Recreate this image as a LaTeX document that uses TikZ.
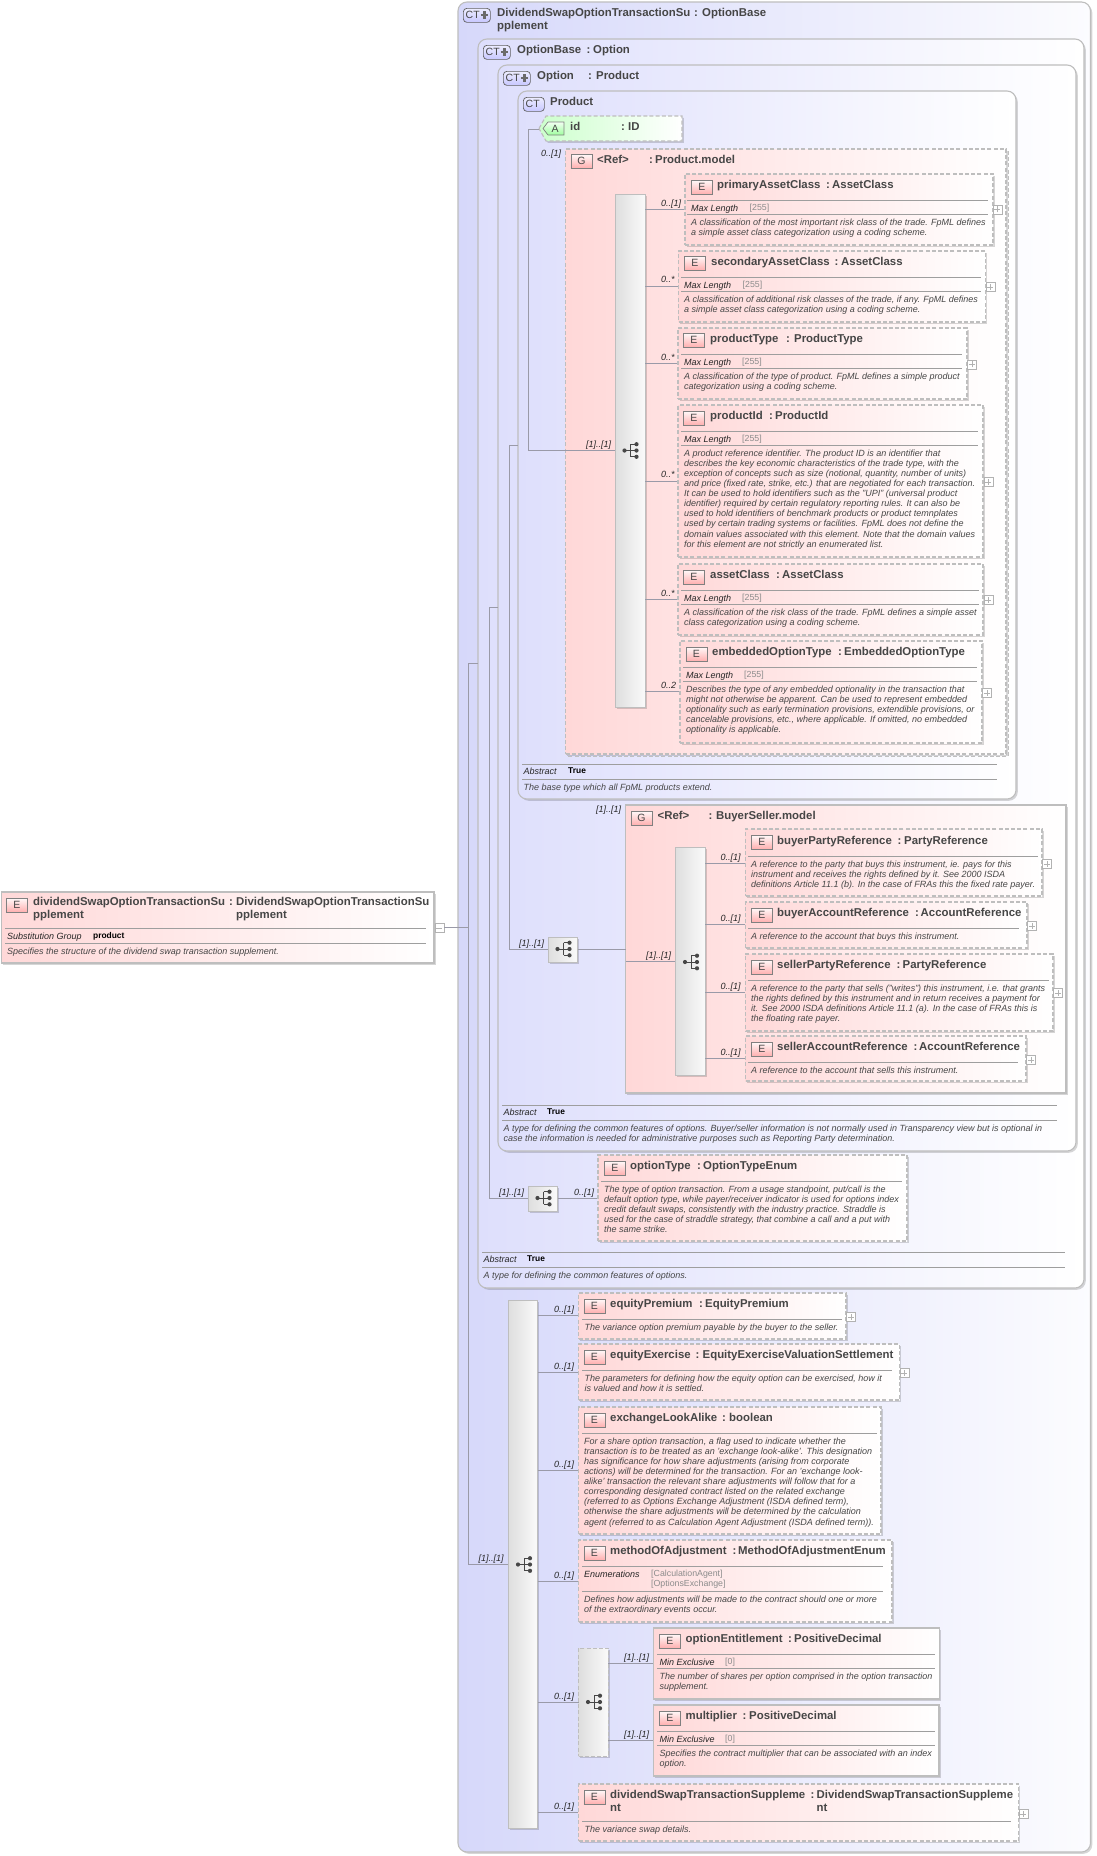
\documentclass[tikz,border=0pt]{standalone}
\usepackage{fontspec}
\setmainfont{Liberation Sans}
\usetikzlibrary{shadows}
\definecolor{bord}{HTML}{BEBEBE}
\definecolor{conn}{HTML}{9A9AA8}
\definecolor{txt}{HTML}{464646}
\definecolor{elL}{HTML}{FFD8D8}
\definecolor{ctA}{HTML}{D6D8FA}
\definecolor{ctB}{HTML}{DEDFFC}
\newcounter{tn}
\tikzset{
 shad/.style={drop shadow={shadow xshift=1.8pt,shadow yshift=-1.8pt,opacity=.16,fill=black}},
 ctbox/.style={draw=bord,line width=1.1pt,rounded corners=9pt,left color=ctB,right color=white,shad},
 ctouter/.style={ctbox,left color=ctA,right color=white!92!ctA},
 elsolid/.style={draw=bord,line width=1.1pt,left color=elL,right color=white,shad},
 eldash/.style={elsolid,dash pattern=on 4pt off 2.2pt},
 compbox/.style={draw=bord,line width=.9pt,left color=black!13,right color=black!2,shad},
 compdash/.style={compbox,dash pattern=on 4pt off 2.2pt},
 iconbox/.style={draw=black!50,line width=.7pt,top color=red!3,bottom color=red!32!white,minimum width=21pt,minimum height=14pt,inner sep=0pt,font=\fontsize{10.5}{10}\selectfont,text=txt,anchor=north west},
 cticon/.style={draw=black!62,line width=.7pt,top color=blue!7,bottom color=blue!22,rounded corners=3.5pt,minimum height=14pt,inner sep=0pt,anchor=north west},
 sep/.style={draw=black!38,line width=.7pt},
 conn/.style={draw=conn,line width=.8pt},
 tt/.style={font=\fontsize{11.4}{12}\selectfont\bfseries,text=txt,inner sep=0pt,anchor=base west},
 desc/.style={font=\fontsize{9}{10.1}\selectfont\itshape,text=txt,inner sep=0pt,anchor=north west,align=left},
 lbl/.style={font=\fontsize{9}{10}\selectfont\itshape,text=black!85,inner sep=0pt,anchor=base west},
 key/.style={font=\fontsize{9}{10}\selectfont\itshape,text=black!85,inner sep=0pt,anchor=base west},
 val/.style={font=\fontsize{8.4}{10}\selectfont\bfseries,text=black,inner sep=0pt,anchor=base west},
 fac/.style={font=\fontsize{8.8}{10}\selectfont,text=black!45,inner sep=0pt,anchor=base west},
 pbox/.style={draw=black!30,line width=.6pt,fill=white,minimum size=9pt,inner sep=0pt,anchor=north west},
 dotc/.style={fill=black!72,draw=none},
}
\newcommand{\BX}[6]{\pgfmathsetmacro\bxw{#4-#2}\pgfmathsetmacro\bxh{#5-#3}%
 \node[#6,minimum width=\bxw pt,minimum height=\bxh pt,inner sep=0pt,outer sep=0pt,anchor=north west] (#1) at (#2,#3) {};}
\newcommand{\TX}[4]{\stepcounter{tn}\node[#3] (t\arabic{tn}) at (#1,#2+3) {#4};}
\newcommand{\TI}[6]{\TX{#1}{#2+.5}{tt}{#3}\TX{#4}{#2+.5}{tt}{:}\TX{#5}{#2+.5}{tt}{#6}}
\newcommand{\D}[3]{\stepcounter{tn}\node[desc] (t\arabic{tn}) at (#1,#2-4) {\rule{0pt}{7pt}#3};}
\newcommand{\HL}[3]{\draw[sep] (#1,#3) -- (#2,#3);}
\newcommand{\LB}[3]{\TX{#1}{#2}{lbl}{#3}}
\newcommand{\IC}[4]{\stepcounter{tn}\node[iconbox] (i\arabic{tn}) at (#2,#3) {#1};}
\newcommand{\PL}[3]{\node[pbox] (#1) at (#2,#3) {};
 \draw[draw=black!30,line width=.6pt] ([xshift=1.8pt]#1.west) -- ([xshift=-1.8pt]#1.east) ([yshift=1.8pt]#1.south) -- ([yshift=-1.8pt]#1.north);}
\newcommand{\CN}[4]{\coordinate (#2) at (#3,#4); \draw[conn] (#1.east |- #2) -- (#2);}
\newcommand{\CI}[2]{\begin{scope}[shift={(#1,#2)}]
 \draw[black!72,line width=.8pt] (-6,0) -- (6,0) (0,-6.3) -- (0,6.3) (0,-6.3) -- (6,-6.3) (0,6.3) -- (6,6.3);
 \fill[dotc] (-6,0) circle (2.1pt) (6,-6.3) circle (2.1pt) (6,0) circle (2.1pt) (6,6.3) circle (2.1pt);
 \end{scope}}
\newcommand{\CT}[4]{\stepcounter{tn}\pgfmathsetmacro\bxw{#3}\node[cticon,minimum width=\bxw pt] (c\arabic{tn}) at (#1,#2) {\hspace*{#4}};
 \node[inner sep=0pt,anchor=west,font=\fontsize{10.5}{10}\selectfont,text=txt] (cl\arabic{tn}) at (#1+2.5,#2+7.2) {CT};}
\newcommand{\CP}[2]{\draw[line width=2.2pt,draw=black!58] (#1+21.5,#2+3.3) -- (#1+21.5,#2+10.7) (#1+17.8,#2+7) -- (#1+25.2,#2+7);}
\begin{document}
\begin{tikzpicture}[x=1pt,y=-1pt]
\useasboundingbox[fill=white] (0,0) rectangle (1096,1856);
% nested complex types
\BX{ctout}{458}{2}{1090.5}{1852}{ctouter}
\CT{463}{8}{27}{0pt}\CP{463}{8}
\TX{497}{13.5}{tt}{DividendSwapOptionTransactionSu}\TX{497}{26.5}{tt}{pplement}\TX{694}{13.5}{tt}{:}\TX{702}{13.5}{tt}{OptionBase}
\BX{ctbase}{478}{39}{1084}{1288}{ctbox}
\CT{483}{45}{27}{0pt}\CP{483}{45}
\TX{517}{50.5}{tt}{OptionBase}\TX{586.5}{50.5}{tt}{:}\TX{593}{50.5}{tt}{Option}
\BX{ctopt}{498}{65}{1076}{1151}{ctbox}
\CT{503}{71}{27}{0pt}\CP{503}{71}
\TX{537}{76.5}{tt}{Option}\TX{588}{76.5}{tt}{:}\TX{596}{76.5}{tt}{Product}
\BX{ctprod}{518}{91}{1016}{799}{ctbox}
\CT{523}{97}{21}{0pt}
\TX{550}{102.5}{tt}{Product}
% attribute
\draw[line width=1.1pt,draw=bord,dash pattern=on 4pt off 2.2pt,left color=green!20!white,right color=white,shad] (539,128.5) -- (546,116) -- (682,116) -- (682,141) -- (546,141) -- cycle;
\draw[draw=black!50,line width=.7pt,top color=green!5,bottom color=green!38!white] (543,128.5) -- (548,122) -- (564,122) -- (564,135) -- (548,135) -- cycle;
\node[inner sep=0pt,font=\fontsize{10.5}{10}\selectfont,text=txt] (iattr) at (555,128.7) {A};
\TX{570}{127.5}{tt}{id}\TX{621}{127.5}{tt}{:}\TX{628}{127.5}{tt}{ID}
\coordinate (attr-c) at (539,129.5);
% Product.model
\LB{541}{153}{0..[1]}
\BX{gprod}{565.5}{149}{1006}{754}{eldash}
\draw[draw=black!25,line width=1.2pt,dash pattern=on 4pt off 2.2pt] (1008.5,151) -- (1008.5,756.5) -- (568,756.5);
\IC{G}{570.5}{154}{}
\TX{597}{160.5}{tt}{<Ref>}\TX{649}{160.5}{tt}{:}\TX{655}{160.5}{tt}{Product.model}
\BX{cpP}{615}{194}{645}{707}{compbox}
\CI{630.5}{450.5}
\coordinate (cpP-c) at (615,450);
\LB{586}{444}{[1]..[1]}
% primaryAssetClass
\CN{cpP}{e1-c}{685}{209}\LB{661}{203}{0..[1]}
\BX{e1}{685}{174}{993}{245}{eldash}\IC{E}{691}{180}{}
\TI{717}{185}{primaryAssetClass}{826}{832}{AssetClass}
\HL{687}{988}{200}\TX{691}{208}{key}{Max Length}\TX{749.5}{207.5}{fac}{[255]}\HL{687}{988}{214}
\D{691}{222}{A classification of the most important risk class of the trade. FpML defines\\a simple asset class categorization using a coding scheme.}
\PL{p1}{992.5}{204.5}
% secondaryAssetClass
\CN{cpP}{e2-c}{678.5}{286}\LB{661}{279}{0..*}
\BX{e2}{678.5}{251}{985.5}{322}{eldash}\IC{E}{684}{256}{}
\TI{711}{262}{secondaryAssetClass}{834.5}{841}{AssetClass}
\HL{681}{981}{277}\TX{684}{285}{key}{Max Length}\TX{742.5}{284.5}{fac}{[255]}\HL{681}{981}{291}
\D{684}{299}{A classification of additional risk classes of the trade, if any. FpML defines\\a simple asset class categorization using a coding scheme.}
\PL{p2}{985.5}{282}
% productType
\CN{cpP}{e3-c}{678}{363}\LB{661}{357}{0..*}
\BX{e3}{678}{328}{967}{399}{eldash}\IC{E}{683}{333}{}
\TI{710}{339}{productType}{786}{794}{ProductType}
\HL{681}{962}{354}\TX{684}{362}{key}{Max Length}\TX{742}{361.5}{fac}{[255]}\HL{681}{962}{368}
\D{684}{376}{A classification of the type of product. FpML defines a simple product\\categorization using a coding scheme.}
\PL{p3}{967}{359.5}
% productId
\CN{cpP}{e4-c}{678}{481}\LB{661}{474}{0..*}
\BX{e4}{678}{405}{983}{557}{eldash}\IC{E}{683}{411}{}
\TI{710}{416}{productId}{769}{775}{ProductId}
\HL{681}{978}{431}\TX{684}{439}{key}{Max Length}\TX{742}{438.5}{fac}{[255]}\HL{681}{978}{445}
\D{684}{453}{A product reference identifier. The product ID is an identifier that\\describes the key economic characteristics of the trade type, with the\\exception of concepts such as size (notional, quantity, number of units)\\and price (fixed rate, strike, etc.) that are negotiated for each transaction.\\It can be used to hold identifiers such as the "UPI" (universal product\\identifier) required by certain regulatory reporting rules. It can also be\\used to hold identifiers of benchmark products or product temnplates\\used by certain trading systems or facilities. FpML does not define the\\domain values associated with this element. Note that the domain values\\for this element are not strictly an enumerated list.}
\PL{p4}{983.5}{477}
% assetClass
\CN{cpP}{e5-c}{678}{599}\LB{661}{593}{0..*}
\BX{e5}{678}{564}{983}{635}{eldash}\IC{E}{683}{570}{}
\TI{710}{575}{assetClass}{776}{782}{AssetClass}
\HL{681}{979}{590}\TX{684}{598}{key}{Max Length}\TX{742}{597.5}{fac}{[255]}\HL{681}{979}{604}
\D{684}{612}{A classification of the risk class of the trade. FpML defines a simple asset\\class categorization using a coding scheme.}
\PL{p5}{983.5}{595}
% embeddedOptionType
\CN{cpP}{e6-c}{680}{691}\LB{661}{685}{0..2}
\BX{e6}{680}{641}{982}{743}{eldash}\IC{E}{685.5}{647}{}
\TI{712}{652}{embeddedOptionType}{838}{844}{EmbeddedOptionType}
\HL{683}{977}{667}\TX{686}{675}{key}{Max Length}\TX{744}{674.5}{fac}{[255]}\HL{683}{977}{681}
\D{686}{689}{Describes the type of any embedded optionality in the transaction that\\might not otherwise be apparent. Can be used to represent embedded\\optionality such as early termination provisions, extendible provisions, or\\cancelable provisions, etc., where applicable. If omitted, no embedded\\optionality is applicable.}
\PL{p6}{982}{688}
% Product footer
\HL{522}{996.5}{764}\TX{523.5}{771}{key}{Abstract}\TX{568}{770.5}{val}{True}\HL{522}{996.5}{779}
\D{523.5}{787}{The base type which all FpML products extend.}
% BuyerSeller
\BX{cpB}{548}{937}{577.5}{962}{compbox}\CI{563.5}{949}
\coordinate (cpB-c) at (548,949);
\LB{519}{943}{[1]..[1]}
\LB{596}{809}{[1]..[1]}
\BX{gbs}{625.5}{805}{1066}{1093}{elsolid}
\draw[conn] (cpB.east |- cpB-c) -- (gbs.west |- cpB-c);
\IC{G}{630.5}{811}{}
\TX{657.5}{816.5}{tt}{<Ref>}\TX{708.5}{816.5}{tt}{:}\TX{716}{816.5}{tt}{BuyerSeller.model}
\BX{cpI}{675}{847}{705}{1075}{compbox}\CI{691}{962}
\coordinate (cpI-c) at (675,961);
\draw[conn] (gbs.west |- cpI-c) -- (cpI-c);
\LB{646}{955}{[1]..[1]}
\CN{cpI}{b1-c}{745.5}{863}\LB{720.5}{857}{0..[1]}
\BX{b1}{745.5}{829}{1042}{896}{eldash}\IC{E}{751}{835}{}
\TI{777}{841}{buyerPartyReference}{897.5}{904}{PartyReference}
\HL{748}{1038}{856}
\D{751}{864}{A reference to the party that buys this instrument, ie. pays for this\\instrument and receives the rights defined by it. See 2000 ISDA\\definitions Article 11.1 (b). In the case of FRAs this the fixed rate payer.}
\PL{q1}{1042}{859}
\CN{cpI}{b2-c}{745.5}{924}\LB{720.5}{918}{0..[1]}
\BX{b2}{745.5}{902}{1027}{948}{eldash}\IC{E}{751}{908}{}
\TI{777}{913}{buyerAccountReference}{915}{920.5}{AccountReference}
\HL{748}{1019}{928}
\D{751}{936}{A reference to the account that buys this instrument.}
\PL{q2}{1027}{921}
\CN{cpI}{b3-c}{745.5}{992}\LB{720.5}{986}{0..[1]}
\BX{b3}{745.5}{954}{1053}{1031}{eldash}\IC{E}{751}{960}{}
\TI{777}{965}{sellerPartyReference}{896.5}{902.5}{PartyReference}
\HL{748}{1049}{980}
\D{751}{988}{A reference to the party that sells ("writes") this instrument, i.e. that grants\\the rights defined by this instrument and in return receives a payment for\\it. See 2000 ISDA definitions Article 11.1 (a). In the case of FRAs this is\\the floating rate payer.}
\PL{q3}{1053}{988}
\CN{cpI}{b4-c}{745.5}{1058}\LB{720.5}{1052}{0..[1]}
\BX{b4}{745.5}{1036}{1026}{1081}{eldash}\IC{E}{751}{1042}{}
\TI{777}{1047}{sellerAccountReference}{913.5}{919}{AccountReference}
\HL{748}{1018}{1062}
\D{751}{1070}{A reference to the account that sells this instrument.}
\PL{q4}{1026}{1055}
% Option footer
\HL{502}{1057}{1105}\TX{503.5}{1112}{key}{Abstract}\TX{547}{1111.5}{val}{True}\HL{502}{1057}{1120}
\D{503.5}{1128}{A type for defining the common features of options. Buyer/seller information is not normally used in Transparency view but is optional in\\case the information is needed for administrative purposes such as Reporting Party determination.}
% optionType
\BX{cpT}{528}{1186}{557.5}{1211}{compbox}\CI{543.5}{1198}
\coordinate (cpT-c) at (528,1198);
\LB{499}{1192}{[1]..[1]}
\CN{cpT}{ot-c}{598}{1198}\LB{574}{1192}{0..[1]}
\BX{ot}{598}{1155}{907}{1241}{eldash}\IC{E}{604}{1161}{}
\TI{630}{1166}{optionType}{697}{703}{OptionTypeEnum}
\HL{601}{902}{1181}
\D{604}{1189}{The type of option transaction. From a usage standpoint, put/call is the\\default option type, while payer/receiver indicator is used for options index\\credit default swaps, consistently with the industry practice. Straddle is\\used for the case of straddle strategy, that combine a call and a put with\\the same strike.}
% OptionBase footer
\HL{482}{1065}{1252}\TX{483.5}{1259}{key}{Abstract}\TX{527}{1258.5}{val}{True}\HL{482}{1065}{1267}
\D{483.5}{1275}{A type for defining the common features of options.}
% big sequence
\BX{cpM}{508}{1300}{537.5}{1828}{compbox}\CI{524}{1564.5}
\coordinate (cpM-c) at (508,1564);
\LB{478.5}{1558}{[1]..[1]}
\CN{cpM}{m1-c}{578.5}{1315}\LB{554}{1309}{0..[1]}
\BX{m1}{578.5}{1293}{846}{1339}{eldash}\IC{E}{583.5}{1299}{}
\TI{610}{1304}{equityPremium}{699}{705}{EquityPremium}
\HL{582}{842}{1319}
\D{584.5}{1327}{The variance option premium payable by the buyer to the seller.}
\PL{m1p}{846}{1312}
\CN{cpM}{m2-c}{578.5}{1372}\LB{554}{1366}{0..[1]}
\BX{m2}{578.5}{1344}{899.5}{1400}{eldash}\IC{E}{583.5}{1350}{}
\TI{610}{1355}{equityExercise}{695.5}{702.5}{EquityExerciseValuationSettlement}
\HL{582}{892}{1370}
\D{584.5}{1378}{The parameters for defining how the equity option can be exercised, how it\\is valued and how it is settled.}
\PL{m2p}{899.5}{1368}
\CN{cpM}{m3-c}{578.5}{1470}\LB{554}{1464}{0..[1]}
\BX{m3}{578.5}{1407}{881}{1534}{eldash}\IC{E}{583.5}{1413}{}
\TI{610}{1418}{exchangeLookAlike}{722}{729}{boolean}
\HL{582}{877}{1433}
\D{584}{1441}{For a share option transaction, a flag used to indicate whether the\\transaction is to be treated as an 'exchange look-alike'. This designation\\has significance for how share adjustments (arising from corporate\\actions) will be determined for the transaction. For an 'exchange look-\\alike' transaction the relevant share adjustments will follow that for a\\corresponding designated contract listed on the related exchange\\(referred to as Options Exchange Adjustment (ISDA defined term),\\otherwise the share adjustments will be determined by the calculation\\agent (referred to as Calculation Agent Adjustment (ISDA defined term)).}
\CN{cpM}{m4-c}{578.5}{1581}\LB{554}{1575}{0..[1]}
\BX{m4}{578.5}{1540}{892}{1622}{eldash}\IC{E}{583.5}{1546}{}
\TI{610}{1551}{methodOfAdjustment}{732.5}{738}{MethodOfAdjustmentEnum}
\HL{582}{883}{1566}
\TX{584}{1574}{key}{Enumerations}\TX{651}{1573}{fac}{[CalculationAgent]}\TX{651}{1583}{fac}{[OptionsExchange]}
\HL{582}{883}{1591}
\D{584}{1599}{Defines how adjustments will be made to the contract should one or more\\of the extraordinary events occur.}
\BX{cpN}{578.5}{1648}{608}{1756}{compdash}\CI{594}{1702}
\CN{cpM}{cpN-c}{578.5}{1702}\LB{554}{1696}{0..[1]}
\CN{cpN}{n1-c}{653.5}{1663}\LB{624}{1657}{[1]..[1]}
\BX{n1}{653.5}{1628}{939.5}{1699}{elsolid}\IC{E}{659}{1634}{}
\TI{685.5}{1639}{optionEntitlement}{788}{794}{PositiveDecimal}
\HL{657}{935}{1654}\TX{659.5}{1662}{key}{Min Exclusive}\TX{725}{1661.5}{fac}{[0]}\HL{657}{935}{1668}
\D{659.5}{1676}{The number of shares per option comprised in the option transaction\\supplement.}
\CN{cpN}{n2-c}{653.5}{1740}\LB{624}{1734}{[1]..[1]}
\BX{n2}{653.5}{1705}{939}{1776}{elsolid}\IC{E}{659}{1711}{}
\TI{685.5}{1716}{multiplier}{742.5}{749}{PositiveDecimal}
\HL{657}{935}{1731}\TX{659.5}{1739}{key}{Min Exclusive}\TX{725}{1738.5}{fac}{[0]}\HL{657}{935}{1745}
\D{659.5}{1753}{Specifies the contract multiplier that can be associated with an index\\option.}
\CN{cpM}{m5-c}{578.5}{1812}\LB{554}{1806}{0..[1]}
\BX{m5}{578.5}{1784}{1018.5}{1841}{eldash}\IC{E}{583.5}{1790}{}
\TI{610}{1795}{dividendSwapTransactionSuppleme}{810.5}{816.5}{DividendSwapTransactionSuppleme}
\TX{610}{1808.5}{tt}{nt}\TX{816.5}{1808.5}{tt}{nt}
\HL{582}{1011}{1821}
\D{584.5}{1829}{The variance swap details.}
\PL{m5p}{1018.5}{1809}
% root element
\BX{root}{1.5}{892}{434}{963}{elsolid}\IC{E}{6}{898}{}
\TX{33}{902.5}{tt}{dividendSwapOptionTransactionSu}\TX{33}{915.5}{tt}{pplement}\TX{229}{902.5}{tt}{:}\TX{236}{902.5}{tt}{DividendSwapOptionTransactionSu}\TX{236}{915.5}{tt}{pplement}
\HL{5}{426}{928}\TX{7}{936}{key}{Substitution Group}\TX{93}{935}{val}{product}\HL{5}{426}{943}
\D{7}{951}{Specifies the structure of the dividend swap transaction supplement.}
\node[pbox] (minus) at (434.5,923) {};
\draw[draw=black!30,line width=.6pt] ([xshift=1.8pt]minus.west) -- ([xshift=-1.8pt]minus.east);
% buses
\coordinate (b1bus) at (468.5,0);
\coordinate (b2bus) at (489,0);
\coordinate (b3bus) at (509,0);
\coordinate (b4bus) at (528.5,0);
\coordinate (ob-c) at (478,663);
\coordinate (op-c) at (498,607);
\coordinate (pr-c) at (518,445);
\draw[conn] (minus.east) -- (b1bus |- minus.east);
\draw[conn] (ob-c) -- (b1bus |- ob-c) -- (b1bus |- cpM-c) -- (cpM-c);
\draw[conn] (op-c) -- (b2bus |- op-c) -- (b2bus |- cpT-c) -- (cpT-c);
\draw[conn] (pr-c) -- (b3bus |- pr-c) -- (b3bus |- cpB-c) -- (cpB-c);
\draw[conn] (attr-c) -- (b4bus |- attr-c) -- (b4bus |- cpP-c) -- (cpP-c);
\end{tikzpicture}
\end{document}
